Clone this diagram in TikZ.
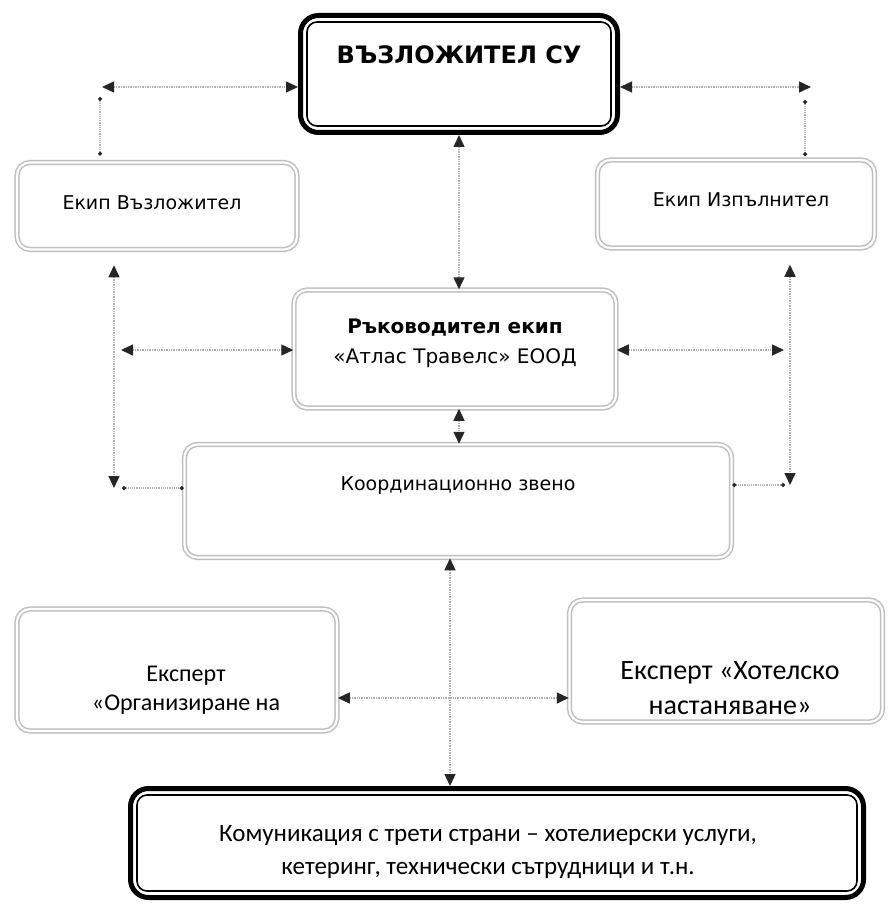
\documentclass[tikz,border=0pt]{standalone}
\usepackage{fontspec}
\setmainfont{DejaVu Sans}
\newfontfamily\calfont{Carlito}
\usetikzlibrary{arrows.meta}

\begin{document}
\begin{tikzpicture}[x=1pt,y=-1pt,
    >={Triangle[length=12pt,width=11pt,color=gray!30!black]},
    softbox/.style={draw=gray!50, double, double distance=2.2pt, line width=1.5pt, rounded corners=13pt, inner sep=0pt},
    hardbox/.style={draw=black, line width=5pt, rounded corners=18pt, inner sep=0pt},
    innerline/.style={draw=black, line width=1.6pt, rounded corners=10pt},
    link/.style={<->, gray!60, densely dotted, line width=1.4pt},
    dotlink/.style={{Circle[length=4pt,color=gray!30!black]}-{Circle[length=4pt,color=gray!30!black]}, gray!60, densely dotted, line width=1.2pt},
    txt/.style={font=\fontsize{19}{23}\selectfont},
    caltxt/.style={font=\calfont\fontsize{25}{33}\selectfont, align=center}]
  \useasboundingbox (0,0) rectangle (888,904);

  % boxes
  \node[hardbox, minimum width=317, minimum height=117] (top) at (459,74) {};
  \draw[innerline] ([shift={(9,9)}]top.north west) rectangle ([shift={(-9,-9)}]top.south east);
  \node[font=\fontsize{24}{28}\selectfont\bfseries] (topT) at (459,55) {ВЪЗЛОЖИТЕЛ СУ};

  \node[softbox, minimum width=280, minimum height=87] (ekV) at (157,206) {};
  \node[txt] (ekVT) at (152,203) {Екип Възложител};
  \node[softbox, minimum width=277, minimum height=88] (ekI) at (736,204) {};
  \node[txt] (ekIT) at (741,200) {Екип Изпълнител};

  \node[softbox, minimum width=322, minimum height=118] (ruk) at (455,349) {};
  \node[txt, align=center, font=\fontsize{20}{30}\selectfont] (rukT) at (455,343) {\textbf{Ръководител екип}\\«Атлас Травелс» ЕООД};

  \node[softbox, minimum width=547, minimum height=113] (koord) at (458,501) {};
  \node[txt] (koordT) at (458,486) {Координационно звено};

  \node[softbox, minimum width=320, minimum height=122] (eksL) at (177,670) {};
  \node[caltxt, font=\calfont\fontsize{24}{29}\selectfont] (eksLT) at (186,690) {Експерт\\«Организиране на};
  \node[softbox, minimum width=313, minimum height=122] (eksR) at (726,661) {};
  \node[caltxt, font=\calfont\fontsize{28}{35}\selectfont] (eksRT) at (730,688) {Експерт «Хотелско\\настаняване»};

  \node[hardbox, minimum width=733, minimum height=109] (kom) at (497,843) {};
  \draw[innerline] ([shift={(9,9)}]kom.north west) rectangle ([shift={(-9,-9)}]kom.south east);
  \node[caltxt] (komT) at (488,852) {Комуникация с трети страни – хотелиерски услуги,\\кетеринг, технически сътрудници и т.н.};

  % connectors
  \coordinate (tl) at (102,87);
  \coordinate (tr) at (811,87);
  \draw[link] (tl) -- (tl -| top.west);
  \draw[link] (tr -| top.east) -- (tr);
  \coordinate (tlv) at (100,97);
  \coordinate (trv) at (805,100);
  \draw[dotlink, shorten >=6pt] (tlv) -- (tlv |- ekV.north);
  \draw[dotlink, shorten >=3pt] (trv) -- (trv |- ekI.north);

  \draw[link] (top.south) -- (top.south |- ruk.north);
  \draw[link] (top.south |- ruk.south) -- (top.south |- koord.north);

  \coordinate (vl) at (114,488);
  \coordinate (vr) at (790,485);
  \draw[link, shorten <=15pt] (vl |- ekV.south) -- (vl);
  \draw[link, shorten <=16pt] (vr |- ekI.south) -- (vr);
  \coordinate (hl) at (121,350);
  \coordinate (hr) at (784,350);
  \draw[link] (hl) -- (hl -| ruk.west);
  \draw[link] (hr -| ruk.east) -- (hr);
  \draw[dotlink] ([xshift=8pt]vl) -- (vl -| koord.west);
  \draw[dotlink] (vr -| koord.east) -- ([xshift=-5pt]vr);

  \coordinate (vm) at (450,698);
  \draw[link] (vm |- koord.south) -- (vm |- kom.north);
  \draw[link] (vm -| eksL.east) -- (vm -| eksR.west);
\end{tikzpicture}
\end{document}
